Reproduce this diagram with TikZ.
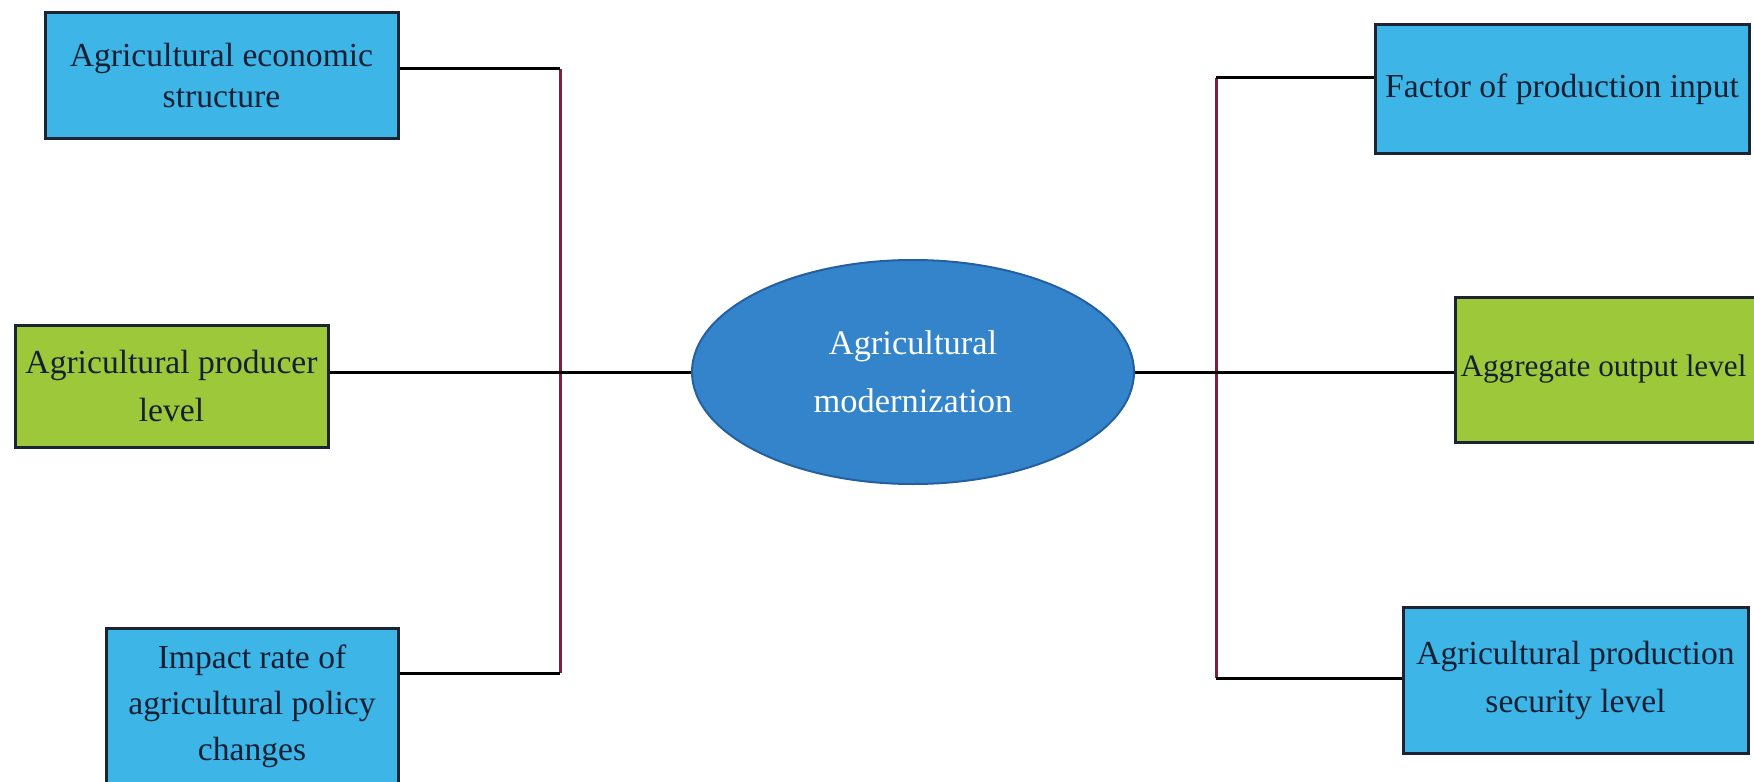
\documentclass[tikz,border=0pt]{standalone}
\usepackage{fontspec}
\setmainfont{Liberation Serif}
\usetikzlibrary{shapes.geometric}

\definecolor{boxblue}{RGB}{61,181,230}
\definecolor{boxgreen}{RGB}{156,200,58}
\definecolor{hubblue}{RGB}{52,132,204}
\definecolor{hubedge}{RGB}{36,96,160}
\definecolor{edgedark}{RGB}{28,36,52}
\definecolor{textdark}{RGB}{22,32,52}
\definecolor{linkred}{RGB}{128,32,64}

\begin{document}
\begin{tikzpicture}[x=0.5pt,y=-0.5pt,
  block/.style={draw=edgedark,line width=1.5pt,align=center,text=textdark,
    inner sep=0pt,font=\fontsize{16.8}{24}\selectfont},
  blockblue/.style={block,fill=boxblue},
  blockgreen/.style={block,fill=boxgreen},
  hubnode/.style={ellipse,draw=hubedge,line width=1pt,fill=hubblue,text=white,
    align=center,inner sep=0pt,minimum width=221pt,minimum height=112pt,
    font=\fontsize{17.2}{29}\selectfont},
  hline/.style={draw=black,line width=1.5pt},
  vline/.style={draw=linkred,line width=1.5pt}]
  % cadru
  \useasboundingbox (0,0) rectangle (1754,781);
  \clip (0,0) rectangle (1754,781);

  % centru
  \node[hubnode] (hub) at (913,372) {Agricultural\\modernization};

  % stânga
  \node[blockblue,minimum width=176.5pt,minimum height=62.5pt,
    font=\fontsize{16.8}{20.5}\selectfont] (econ) at (221.5,75.5)
    {Agricultural economic\\structure};
  \node[blockgreen,minimum width=156.5pt,minimum height=61pt] (producer) at (171.5,386)
    {Agricultural producer\\level};
  \node[blockblue,minimum width=146pt,minimum height=78pt,
    font=\fontsize{16.8}{23}\selectfont] (policy) at (252,706)
    {Impact rate of\\agricultural policy\\changes};

  % dreapta
  \node[blockblue,minimum width=187pt,minimum height=64pt] (factor) at (1562,89)
    {Factor of production input};
  \node[blockgreen,anchor=west,text width=180pt,align=flush left,inner xsep=2.5pt,
    minimum height=72.5pt,font=\fontsize{15.6}{24}\selectfont] (aggregate)
    at (1454,369.5) {Aggregate output level};
  \node[blockblue,minimum width=172.5pt,minimum height=73pt] (security) at (1575.5,680)
    {Agricultural production\\security level};

  % legături
  \coordinate (lt) at (560,69);
  \coordinate (lb) at (560,673);
  \coordinate (rt) at (1216,78);
  \coordinate (rb) at (1216,678);

  \draw[vline] (lt) -- (lb);
  \draw[vline] (rt) -- (rb);

  \draw[hline] (econ.east |- lt) -- (lt);
  \draw[hline] (lb) -- (policy.east |- lb);
  \draw[hline] (producer.east |- hub.west) -- (hub.west);
  \draw[hline] (hub.east) -- (aggregate.west |- hub.east);
  \draw[hline] (rt) -- (factor.west |- rt);
  \draw[hline] (rb) -- (security.west |- rb);
\end{tikzpicture}
\end{document}
